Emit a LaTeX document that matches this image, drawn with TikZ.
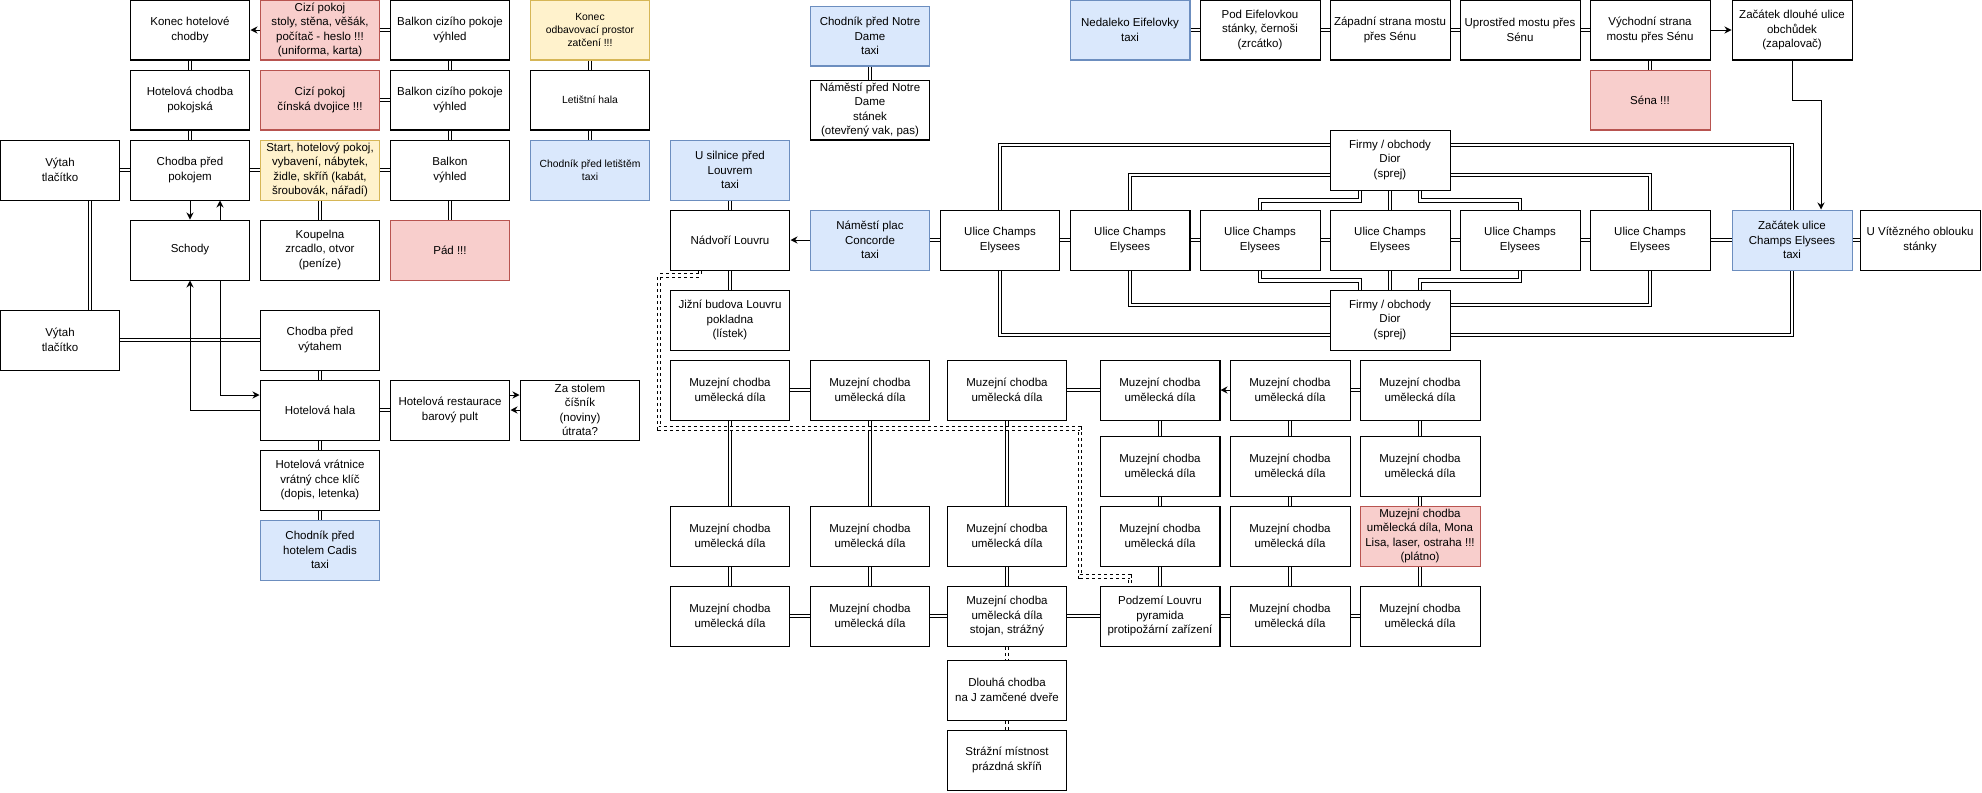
\documentclass[tikz,border=0pt]{standalone}
\usepackage{fontspec}
\setmainfont{Liberation Sans}
\usetikzlibrary{arrows.meta,calc}

\definecolor{taxifill}{HTML}{DAE8FC}
\definecolor{taxiline}{HTML}{6C8EBF}
\definecolor{dangerfill}{HTML}{F8CECC}
\definecolor{dangerline}{HTML}{B85450}
\definecolor{notefill}{HTML}{FFF2CC}
\definecolor{noteline}{HTML}{D6B656}

\begin{document}
\begin{tikzpicture}[x=0.02cm, y=-0.02cm, >={Stealth[length=4pt, width=4pt]},
    room/.style={draw, line width=0.57pt, minimum width=2.4cm, minimum height=1.2cm,
        inner sep=0pt, align=center, font=\fontsize{6.55}{8.2}\selectfont},
    taxi/.style={room, draw=taxiline, fill=taxifill},
    danger/.style={room, draw=dangerline, fill=dangerfill},
    note/.style={room, draw=noteline, fill=notefill},
    small/.style={font=\fontsize{5.9}{7.4}\selectfont},
    link/.style={double, line width=0.57pt, double distance=0.045cm},
    walk/.style={->, line width=0.57pt},
    secret/.style={link, dash pattern=on 0.06cm off 0.06cm}]
    \useasboundingbox (0, 0) rectangle (1982, 792);

    % Nodes - hotel
    \node[room] at (190, 30) (konec) {Konec hotelové\\chodby};
    \node[danger] at (320, 30) (cizi1) {Cizí pokoj\\stoly, stěna, věšák,\\počítač - heslo !!!\\(uniforma, karta)};
    \node[room] at (450, 30) (balkon1) {Balkon cizího pokoje\\výhled};
    \node[room] at (190, 100) (chodbaPok) {Hotelová chodba\\pokojská};
    \node[danger] at (320, 100) (cizi2) {Cizí pokoj\\čínská dvojice !!!};
    \node[room] at (450, 100) (balkon2) {Balkon cizího pokoje\\výhled};
    \node[room] at (60, 170) (vytah1) {Výtah\\tlačítko};
    \node[room] at (190, 170) (predPok) {Chodba před\\pokojem};
    \node[note] at (320, 170) (start) {Start, hotelový pokoj,\\vybavení, nábytek,\\židle, skříň (kabát,\\šroubovák, nářadí)};
    \node[room] at (450, 170) (balkon3) {Balkon\\výhled};
    \node[room] at (190, 250) (schody) {Schody};
    \node[room] at (320, 250) (koupelna) {Koupelna\\zrcadlo, otvor\\(peníze)};
    \node[danger] at (450, 250) (pad) {Pád !!!};
    \node[room] at (60, 340) (vytah2) {Výtah\\tlačítko};
    \node[room] at (320, 340) (predVyt) {Chodba před\\výtahem};
    \node[room] at (320, 410) (hala) {Hotelová hala};
    \node[room] at (450, 410) (restaurace) {Hotelová restaurace\\barový pult};
    \node[room] at (580, 410) (stul) {Za stolem\\číšník\\(noviny)\\útrata?};
    \node[room] at (320, 480) (vratnice) {Hotelová vrátnice\\vrátný chce klíč\\(dopis, letenka)};
    \node[taxi] at (320, 550) (cadis) {Chodník před\\hotelem Cadis\\taxi};

    % Nodes - airport, Notre Dame
    \node[note, small] at (590, 30) (odbav) {Konec\\odbavovací prostor\\zatčení !!!};
    \node[room, small] at (590, 100) (letiste) {Letištní hala};
    \node[taxi, small] at (590, 170) (chodLet) {Chodník před letištěm\\taxi};
    \node[taxi] at (870, 36) (notreTaxi) {Chodník před Notre\\Dame\\taxi};
    \node[room] at (870, 110) (notreNam) {Náměstí před Notre\\Dame\\stánek\\(otevřený vak, pas)};

    % Nodes - Eiffel, Champs Elysees
    \node[taxi] at (1130, 30) (eiffel) {Nedaleko Eifelovky\\taxi};
    \node[room] at (1260, 30) (podEif) {Pod Eifelovkou\\stánky, černoši\\(zrcátko)};
    \node[room] at (1390, 30) (zapad) {Západní strana mostu\\přes Sénu};
    \node[room] at (1520, 30) (uprostred) {Uprostřed mostu přes\\Sénu};
    \node[room] at (1650, 30) (vychod) {Východní strana\\mostu přes Sénu};
    \node[room] at (1792, 30) (dlouha) {Začátek dlouhé ulice\\obchůdek\\(zapalovač)};
    \node[danger] at (1650, 100) (sena) {Séna !!!};
    \node[room] at (1390, 160) (diorTop) {Firmy / obchody\\Dior\\(sprej)};
    \node[room] at (1000, 240) (ce1) {Ulice Champs\\Elysees};
    \node[room] at (1130, 240) (ce2) {Ulice Champs\\Elysees};
    \node[room] at (1260, 240) (ce3) {Ulice Champs\\Elysees};
    \node[room] at (1390, 240) (ce4) {Ulice Champs\\Elysees};
    \node[room] at (1520, 240) (ce5) {Ulice Champs\\Elysees};
    \node[room] at (1650, 240) (ce6) {Ulice Champs\\Elysees};
    \node[taxi] at (1792, 240) (zacUlice) {Začátek ulice\\Champs Elysees\\taxi};
    \node[room] at (1920, 240) (oblouk) {U Vítězného oblouku\\stánky};
    \node[room] at (1390, 320) (diorBot) {Firmy / obchody\\Dior\\(sprej)};

    % Nodes - Louvre
    \node[taxi] at (730, 170) (silnice) {U silnice před\\Louvrem\\taxi};
    \node[room] at (730, 240) (nadvori) {Nádvoří Louvru};
    \node[taxi] at (870, 240) (concorde) {Náměstí plac\\Concorde\\taxi};
    \node[room] at (730, 320) (jizni) {Jižní budova Louvru\\pokladna\\(lístek)};

    \node[room] at (730, 390) (muz11) {Muzejní chodba\\umělecká díla};
    \node[room] at (870, 390) (muz12) {Muzejní chodba\\umělecká díla};
    \node[room] at (1007, 390) (muz13) {Muzejní chodba\\umělecká díla};
    \node[room] at (1160, 390) (muz14) {Muzejní chodba\\umělecká díla};
    \node[room] at (1290, 390) (muz15) {Muzejní chodba\\umělecká díla};
    \node[room] at (1420, 390) (muz16) {Muzejní chodba\\umělecká díla};
    \node[room] at (1160, 466) (muz24) {Muzejní chodba\\umělecká díla};
    \node[room] at (1290, 466) (muz25) {Muzejní chodba\\umělecká díla};
    \node[room] at (1420, 466) (muz26) {Muzejní chodba\\umělecká díla};
    \node[room] at (730, 536) (muz31) {Muzejní chodba\\umělecká díla};
    \node[room] at (870, 536) (muz32) {Muzejní chodba\\umělecká díla};
    \node[room] at (1007, 536) (muz33) {Muzejní chodba\\umělecká díla};
    \node[room] at (1160, 536) (muz34) {Muzejní chodba\\umělecká díla};
    \node[room] at (1290, 536) (muz35) {Muzejní chodba\\umělecká díla};
    \node[danger] at (1420, 536) (muz36) {Muzejní chodba\\umělecká díla, Mona\\Lisa, laser, ostraha !!!\\(plátno)};
    \node[room] at (730, 616) (muz41) {Muzejní chodba\\umělecká díla};
    \node[room] at (870, 616) (muz42) {Muzejní chodba\\umělecká díla};
    \node[room] at (1007, 616) (muz43) {Muzejní chodba\\umělecká díla\\stojan, strážný};
    \node[room] at (1160, 616) (podzemi) {Podzemí Louvru\\pyramida\\protipožární zařízení};
    \node[room] at (1290, 616) (muz45) {Muzejní chodba\\umělecká díla};
    \node[room] at (1420, 616) (muz46) {Muzejní chodba\\umělecká díla};
    \node[room] at (1007, 690) (dlouhaChodba) {Dlouhá chodba\\na J zamčené dveře};
    \node[room] at (1007, 760) (strazni) {Strážní místnost\\prázdná skříň};

    % Edges - hotel
    \draw[link] (cizi1) -- (balkon1);
    \draw[link] (konec) -- (chodbaPok);
    \draw[link] (balkon1) -- (balkon2);
    \draw[link] (cizi2) -- (balkon2);
    \draw[link] (chodbaPok) -- (predPok);
    \draw[link] (balkon2) -- (balkon3);
    \draw[link] (vytah1) -- (predPok);
    \draw[link] (predPok) -- (start);
    \draw[link] (start) -- (balkon3);
    \draw[link] (start) -- (koupelna);
    \draw[link] (balkon3) -- (pad);
    \draw[link] ($(vytah1.south)+(30,0)$) -- ($(vytah2.north)+(30,0)$);
    \draw[link] (vytah2) -- (predVyt);
    \draw[link] (predVyt) -- (hala);
    \draw[link] (hala) -- (restaurace);
    \draw[link] (hala) -- (vratnice);
    \draw[link] (vratnice) -- (cadis);
    \draw[walk] (cizi1) -- (konec);
    \draw[walk] (predPok) -- (schody);
    \draw[walk] ($(schody.north)+(30,0)$) -- ($(predPok.south)+(30,0)$);
    \draw[walk] (hala.west) -| (schody.south);
    \draw[walk] ($(schody.south)+(30,0)$) |- ($(hala.west)+(0,-15)$);
    \draw[walk] ($(restaurace.east)+(0,-15)$) -- ($(stul.west)+(0,-15)$);
    \draw[walk] (stul) -- (restaurace);

    % Edges - airport, Notre Dame
    \draw[link] (odbav) -- (letiste);
    \draw[link] (letiste) -- (chodLet);
    \draw[link] (notreTaxi) -- (notreNam);

    % Edges - Eiffel, Champs Elysees
    \draw[link] (eiffel) -- (podEif);
    \draw[link] (podEif) -- (zapad);
    \draw[link] (zapad) -- (uprostred);
    \draw[link] (uprostred) -- (vychod);
    \draw[link] (vychod) -- (sena);
    \draw[walk] (vychod) -- (dlouha);
    \draw[walk] (dlouha.south) -- ++(0, 40) -| ($(zacUlice.north)+(29,0)$);
    \draw[link] (concorde) -- (ce1);
    \draw[link] (ce1) -- (ce2);
    \draw[link] (ce2) -- (ce3);
    \draw[link] (ce3) -- (ce4);
    \draw[link] (ce4) -- (ce5);
    \draw[link] (ce5) -- (ce6);
    \draw[link] (ce6) -- (zacUlice);
    \draw[link] (zacUlice) -- (oblouk);
    \draw[link] (ce1.north) |- ($(diorTop.west)+(0,-15)$);
    \draw[link] ($(diorTop.east)+(0,-15)$) -| (zacUlice.north);
    \draw[link] (ce2.north) |- ($(diorTop.west)+(0,15)$);
    \draw[link] ($(diorTop.east)+(0,15)$) -| (ce6.north);
    \draw[link] ($(diorTop.south)+(-30,0)$) -- ++(0, 10) -| (ce3.north);
    \draw[link] (diorTop) -- (ce4);
    \draw[link] ($(diorTop.south)+(30,0)$) -- ++(0, 10) -| (ce5.north);
    \draw[link] (ce3.south) -- ++(0, 10) -| ($(diorBot.north)+(-30,0)$);
    \draw[link] (ce4) -- (diorBot);
    \draw[link] (ce5.south) -- ++(0, 10) -| ($(diorBot.north)+(30,0)$);
    \draw[link] (ce2.south) |- ($(diorBot.west)+(0,-15)$);
    \draw[link] ($(diorBot.east)+(0,-15)$) -| (ce6.south);
    \draw[link] (ce1.south) |- ($(diorBot.west)+(0,15)$);
    \draw[link] ($(diorBot.east)+(0,15)$) -| (zacUlice.south);

    % Edges - Louvre
    \draw[link] (silnice) -- (nadvori);
    \draw[walk] (concorde) -- (nadvori);
    \draw[link] (nadvori) -- (jizni);
    \draw[link] (muz11) -- (muz12);
    \draw[link] (muz13) -- (muz14);
    \draw[walk] (muz15) -- (muz14);
    \draw[link] (muz15) -- (muz16);
    \draw[link] (muz11) -- (muz31);
    \draw[link] (muz12) -- (muz32);
    \draw[link] (muz13) -- (muz33);
    \draw[link] (muz14) -- (muz24);
    \draw[link] (muz15) -- (muz25);
    \draw[link] (muz16) -- (muz26);
    \draw[link] (muz24) -- (muz34);
    \draw[link] (muz25) -- (muz35);
    \draw[link] (muz26) -- (muz36);
    \draw[link] (muz31) -- (muz41);
    \draw[link] (muz32) -- (muz42);
    \draw[link] (muz33) -- (muz43);
    \draw[link] (muz34) -- (podzemi);
    \draw[link] (muz35) -- (muz45);
    \draw[link] (muz36) -- (muz46);
    \draw[link] (muz41) -- (muz42);
    \draw[link] (muz42) -- (muz43);
    \draw[link] (muz43) -- (podzemi);
    \draw[link] (podzemi) -- (muz45);
    \draw[link] (muz45) -- (muz46);
    \draw[secret] ($(nadvori.south)+(-30,0)$) -- ++(0, 5) -- ++(-41, 0) -- ++(0, 153)
        -- ++(421, 0) -- ++(0, 148) -| ($(podzemi.north)+(-30,0)$);
    \draw[secret] (muz43) -- (dlouhaChodba);
    \draw[secret] (dlouhaChodba) -- (strazni);
\end{tikzpicture}
\end{document}
